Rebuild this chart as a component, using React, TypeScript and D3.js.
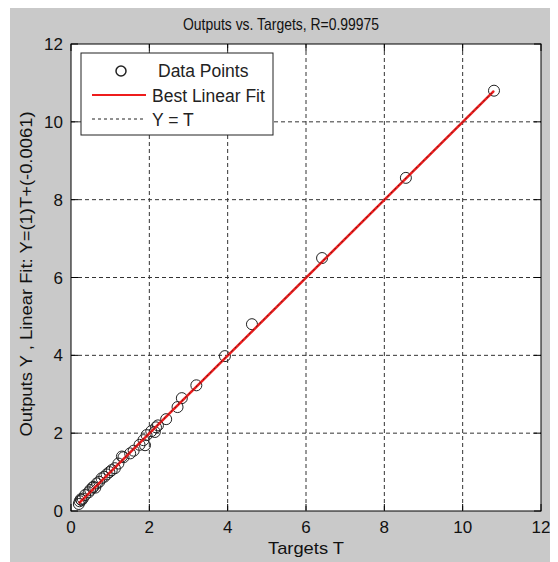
import React, { useEffect, useRef } from "react";
import * as d3 from "d3";

const targets = [
  0.2, 0.22, 0.25, 0.27, 0.3, 0.36, 0.45, 0.49, 0.55, 0.57, 0.62, 0.66, 0.72, 0.78, 0.85, 0.91, 0.98, 1.04,
  1.12, 1.21, 1.3, 1.34, 1.51, 1.6, 1.75, 1.85, 1.89, 1.93, 2.05, 2.14, 2.17, 2.22, 2.43, 2.72, 2.83, 3.2,
  3.93, 4.62, 6.41, 8.55, 10.8,
];
const outputs = [
  0.18, 0.25, 0.3, 0.28, 0.32, 0.41, 0.48, 0.54, 0.6, 0.62, 0.6, 0.71, 0.75, 0.84, 0.88, 0.94, 1.0, 1.05,
  1.1, 1.22, 1.4, 1.38, 1.48, 1.55, 1.7, 1.82, 1.69, 1.95, 2.05, 2.03, 2.15, 2.2, 2.36, 2.67, 2.9, 3.23,
  3.98, 4.8, 6.5, 8.56, 10.8,
];
const tickValues = [0, 2, 4, 6, 8, 10, 12];
const fitSlope = 1;
const fitOffset = -0.0061;
const legendLabels = ["Data Points", "Best Linear Fit", "Y = T"];

const App = () => {
  const svgRef = useRef<SVGSVGElement>(null);

  useEffect(() => {
    const w = 550;
    const h = 554;
    const m = { left: 63, right: 533, top: 36, bottom: 503 };
    const font = "Arial, 'Liberation Sans', sans-serif";
    const svg = d3.select(svgRef.current).attr("width", w).attr("height", h);
    svg.selectAll("*").remove();

    svg.append("rect").attr("x", 2).attr("y", 0).attr("width", w).attr("height", h).attr("fill", "#c9c9c9");

    const x = d3.scaleLinear().domain([0, 12]).range([m.left, m.right]);
    const y = d3.scaleLinear().domain([0, 12]).range([m.bottom, m.top]);

    svg
      .append("rect")
      .attr("x", m.left)
      .attr("y", m.top)
      .attr("width", m.right - m.left)
      .attr("height", m.bottom - m.top)
      .attr("fill", "#fff");

    // grid
    const grid = svg.append("g").attr("stroke", "#333").attr("stroke-dasharray", "4,3").attr("stroke-width", 1);
    tickValues.slice(1, -1).forEach((t) => {
      grid.append("line").attr("x1", x(t)).attr("x2", x(t)).attr("y1", m.top).attr("y2", m.bottom);
      grid.append("line").attr("y1", y(t)).attr("y2", y(t)).attr("x1", m.left).attr("x2", m.right);
    });

    // ticks on all sides
    const ticks = svg.append("g").attr("stroke", "#000").attr("stroke-width", 1);
    tickValues.forEach((t) => {
      ticks.append("line").attr("x1", x(t)).attr("x2", x(t)).attr("y1", m.bottom).attr("y2", m.bottom - 7);
      ticks.append("line").attr("x1", x(t)).attr("x2", x(t)).attr("y1", m.top).attr("y2", m.top + 7);
      ticks.append("line").attr("y1", y(t)).attr("y2", y(t)).attr("x1", m.left).attr("x2", m.left + 7);
      ticks.append("line").attr("y1", y(t)).attr("y2", y(t)).attr("x1", m.right).attr("x2", m.right - 7);
    });

    svg
      .append("g")
      .selectAll("text")
      .data(tickValues)
      .join("text")
      .attr("x", (d) => x(d))
      .attr("y", m.bottom + 22)
      .attr("text-anchor", "middle")
      .attr("font-family", font)
      .attr("font-size", 17)
      .attr("fill", "#111")
      .text((d) => d);

    svg
      .append("g")
      .selectAll("text")
      .data(tickValues)
      .join("text")
      .attr("x", m.left - 8)
      .attr("y", (d) => y(d) + 6)
      .attr("text-anchor", "end")
      .attr("font-family", font)
      .attr("font-size", 17)
      .attr("fill", "#111")
      .text((d) => d);

    // data points
    const pts = targets.map((t, i) => ({ t, o: outputs[i] }));
    svg
      .append("g")
      .selectAll("circle")
      .data(pts)
      .join("circle")
      .attr("cx", (d) => x(d.t))
      .attr("cy", (d) => y(d.o))
      .attr("r", 5.5)
      .attr("fill", "none")
      .attr("stroke", "#222")
      .attr("stroke-width", 1);

    const tMin = d3.min(targets) as number;
    const tMax = d3.max(targets) as number;
    svg
      .append("line")
      .attr("x1", x(tMin))
      .attr("y1", y(fitSlope * tMin + fitOffset))
      .attr("x2", x(tMax))
      .attr("y2", y(fitSlope * tMax + fitOffset))
      .attr("stroke", "#ee1c1c")
      .attr("stroke-width", 2.5);
    svg
      .append("line")
      .attr("x1", x(tMin))
      .attr("y1", y(tMin))
      .attr("x2", x(tMax))
      .attr("y2", y(tMax))
      .attr("stroke", "#222")
      .attr("stroke-width", 0.8)
      .attr("stroke-dasharray", "2,3");

    // axes box
    svg
      .append("rect")
      .attr("x", m.left)
      .attr("y", m.top)
      .attr("width", m.right - m.left)
      .attr("height", m.bottom - m.top)
      .attr("fill", "none")
      .attr("stroke", "#000")
      .attr("stroke-width", 1);

    // legend
    const lg = svg.append("g").attr("transform", "translate(73,45)");
    lg.append("rect").attr("width", 192).attr("height", 82).attr("fill", "#fff").attr("stroke", "#222");
    lg.append("circle").attr("cx", 40).attr("cy", 18).attr("r", 5).attr("fill", "none").attr("stroke", "#222").attr("stroke-width", 1.5);
    lg.append("line").attr("x1", 11).attr("x2", 65).attr("y1", 42).attr("y2", 42).attr("stroke", "#ee1c1c").attr("stroke-width", 2);
    lg.append("line").attr("x1", 11).attr("x2", 65).attr("y1", 66).attr("y2", 66).attr("stroke", "#222").attr("stroke-dasharray", "3,3");
    lg.selectAll("text.lbl")
      .data(legendLabels)
      .join("text")
      .attr("class", "lbl")
      .attr("x", (d, i) => (i === 0 ? 77 : 71))
      .attr("y", (d, i) => 24 + i * 24.5)
      .attr("font-family", font)
      .attr("font-size", 17.5)
      .attr("fill", "#222")
      .text((d) => d);

    // titles
    svg
      .append("text")
      .attr("x", 273)
      .attr("y", 22)
      .attr("text-anchor", "middle")
      .attr("font-family", font)
      .attr("font-size", 17)
      .attr("textLength", 196)
      .attr("lengthAdjust", "spacingAndGlyphs")
      .attr("fill", "#111")
      .text("Outputs vs. Targets, R=0.99975");
    svg
      .append("text")
      .attr("x", 298)
      .attr("y", 546)
      .attr("text-anchor", "middle")
      .attr("font-family", font)
      .attr("font-size", 17)
      .attr("textLength", 76)
      .attr("lengthAdjust", "spacingAndGlyphs")
      .attr("fill", "#111")
      .text("Targets T");
    svg
      .append("text")
      .attr("transform", "translate(24,266) rotate(-90)")
      .attr("text-anchor", "middle")
      .attr("font-family", font)
      .attr("font-size", 16)
      .attr("textLength", 325)
      .attr("lengthAdjust", "spacingAndGlyphs")
      .attr("fill", "#111")
      .text("Outputs Y ,  Linear Fit:  Y=(1)T+(-0.0061)");
  }, []);

  return (
    <div>
      <svg ref={svgRef} style={{ display: "block" }}></svg>
    </div>
  );
};

export default App;
